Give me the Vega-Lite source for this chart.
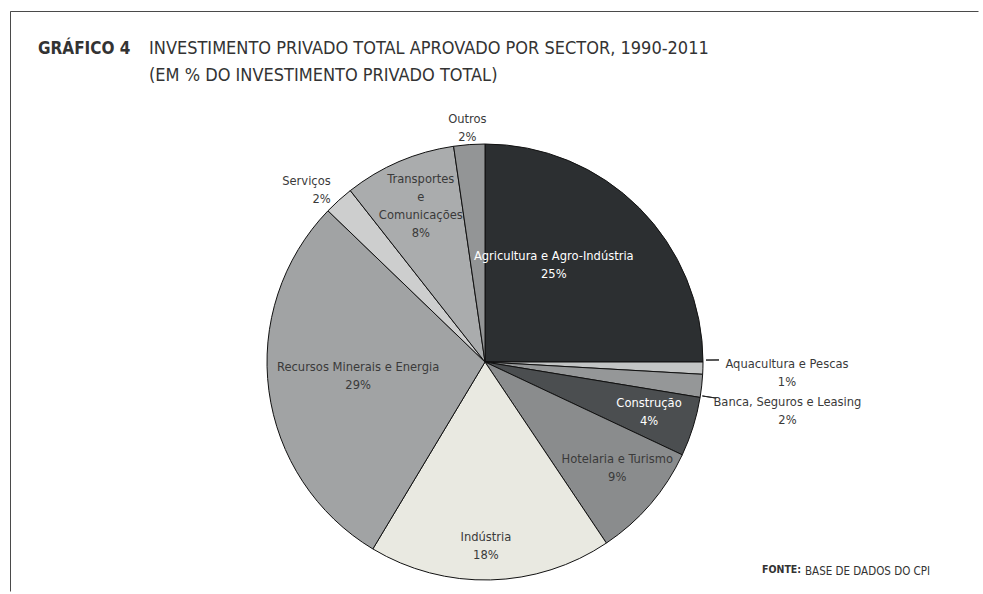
{
  "$schema": "https://vega.github.io/schema/vega-lite/v6.json",
  "padding": {"left": 9, "top": 10, "right": 0, "bottom": 0},
  "background": "white",
  "title": {
    "text": "GRÁFICO 4",
    "orient": "top", "anchor": "start", "frame": "group",
    "offset": -47, "dx": 28,
    "font": "DejaVu Sans Condensed, Liberation Sans Narrow, sans-serif",
    "fontSize": 17, "fontWeight": "bold", "color": "#333333"
  },
  "datasets": {
    "setores": [
      {"ordem": 1, "setor": "Agricultura e Agro-Indústria", "valor": 25.0, "rotulo": "Agricultura e Agro-Indústria\n25%"},
      {"ordem": 2, "setor": "Aquacultura e Pescas", "valor": 0.9, "rotulo": "Aquacultura e Pescas\n1%"},
      {"ordem": 3, "setor": "Banca, Seguros e Leasing", "valor": 1.7, "rotulo": "Banca, Seguros e Leasing\n2%"},
      {"ordem": 4, "setor": "Construção", "valor": 4.4, "rotulo": "Construção\n4%"},
      {"ordem": 5, "setor": "Hotelaria e Turismo", "valor": 8.6, "rotulo": "Hotelaria e Turismo\n9%"},
      {"ordem": 6, "setor": "Indústria", "valor": 18.0, "rotulo": "Indústria\n18%"},
      {"ordem": 7, "setor": "Recursos Minerais e Energia", "valor": 28.6, "rotulo": "Recursos Minerais e Energia\n29%"},
      {"ordem": 8, "setor": "Serviços", "valor": 2.2, "rotulo": "Serviços\n2%"},
      {"ordem": 9, "setor": "Transportes e Comunicações", "valor": 8.3, "rotulo": "Transportes\ne\nComunicações\n8%"},
      {"ordem": 10, "setor": "Outros", "valor": 2.3, "rotulo": "Outros\n2%"}
    ]
  },
  "vconcat": [
    {
      "title": {
        "text": ["INVESTIMENTO PRIVADO TOTAL APROVADO POR SECTOR, 1990-2011", "(EM % DO INVESTIMENTO PRIVADO TOTAL)"],
        "orient": "top", "anchor": "start", "frame": "group",
        "offset": -74, "dx": 139, "lineHeight": 27,
        "font": "DejaVu Sans Condensed, Liberation Sans Narrow, sans-serif",
        "fontSize": 18, "fontWeight": "normal", "color": "#333333"
      },
      "vconcat": [
        {
          "title": {
            "text": "BASE DE DADOS DO CPI",
            "orient": "bottom", "anchor": "start", "frame": "group",
            "offset": -26, "dx": 795,
            "font": "DejaVu Sans Condensed, Liberation Sans Narrow, sans-serif",
            "fontSize": 11.5, "fontWeight": "normal", "color": "#333333"
          },
          "vconcat": [
            {
              "width": 968,
              "height": 580,
              "view": {"stroke": "#4a4a4a", "strokeWidth": 1, "strokeDash": [968, 1548, 580]},
              "data": {"name": "setores"},
              "title": {
                "text": "FONTE:",
                "orient": "bottom", "anchor": "start", "frame": "group",
                "offset": -26, "dx": 752,
                "font": "DejaVu Sans Condensed, Liberation Sans Narrow, sans-serif",
                "fontSize": 10.5, "fontWeight": "bold", "color": "#333333"
              },
              "layer": [
                {
                  "mark": {"type": "arc", "outerRadius": 218, "x": 475, "y": 351, "stroke": "#111111", "strokeWidth": 1},
                  "encoding": {
                    "theta": {"field": "valor", "type": "quantitative", "stack": true},
                    "order": {"field": "ordem", "type": "quantitative"},
                    "color": {
                      "field": "setor", "type": "nominal", "legend": null,
                      "scale": {
                        "domain": ["Agricultura e Agro-Indústria", "Aquacultura e Pescas", "Banca, Seguros e Leasing", "Construção", "Hotelaria e Turismo", "Indústria", "Recursos Minerais e Energia", "Serviços", "Transportes e Comunicações", "Outros"],
                        "range": ["#2c2f31", "#c3c5c5", "#959798", "#4b4e50", "#8a8c8d", "#e9e9e1", "#a1a3a4", "#cdcece", "#aaacad", "#939596"]
                      }
                    }
                  }
                },
                {
                  "mark": {"type": "arc", "clip": true, "x": 475, "y": 351, "innerRadius": 221, "outerRadius": 234, "padAngle": 1, "thetaOffset": -0.037, "theta2Offset": -0.037, "fillOpacity": 0, "stroke": "#222222", "strokeWidth": 1},
                  "encoding": {
                    "theta": {"field": "valor", "type": "quantitative", "stack": true},
                    "order": {"field": "ordem", "type": "quantitative"},
                    "strokeOpacity": {"condition": {"test": "datum.setor == 'Aquacultura e Pescas'", "value": 1}, "value": 0}
                  }
                },
                {
                  "mark": {"type": "arc", "clip": true, "x": 475, "y": 351, "innerRadius": 220, "outerRadius": 234, "padAngle": 1, "thetaOffset": 0.045, "theta2Offset": 0.045, "fillOpacity": 0, "stroke": "#222222", "strokeWidth": 1},
                  "encoding": {
                    "theta": {"field": "valor", "type": "quantitative", "stack": true},
                    "order": {"field": "ordem", "type": "quantitative"},
                    "strokeOpacity": {"condition": {"test": "datum.setor == 'Banca, Seguros e Leasing'", "value": 1}, "value": 0}
                  }
                },
                {
                  "mark": {"type": "text", "clip": true, "x": 475, "y": 351, "radius": 126, "thetaOffset": -0.208, "font": "DejaVu Sans Condensed, Liberation Sans Narrow, sans-serif", "fontSize": 12.8, "lineHeight": 18, "align": "center", "baseline": "middle", "lineBreak": "\n", "fill": "#ffffff"},
                  "encoding": {
                    "theta": {"field": "valor", "type": "quantitative", "stack": true},
                    "order": {"field": "ordem", "type": "quantitative"},
                    "text": {"field": "rotulo", "type": "nominal", "condition": {"test": "datum.setor != 'Agricultura e Agro-Indústria'", "value": ""}}
                  }
                },
                {
                  "mark": {"type": "text", "clip": true, "x": 475, "y": 351, "radius": 302, "thetaOffset": -0.02, "font": "DejaVu Sans Condensed, Liberation Sans Narrow, sans-serif", "fontSize": 12.8, "lineHeight": 18, "align": "center", "baseline": "middle", "lineBreak": "\n", "fill": "#3a3a3a"},
                  "encoding": {
                    "theta": {"field": "valor", "type": "quantitative", "stack": true},
                    "order": {"field": "ordem", "type": "quantitative"},
                    "text": {"field": "rotulo", "type": "nominal", "condition": {"test": "datum.setor != 'Aquacultura e Pescas'", "value": ""}}
                  }
                },
                {
                  "mark": {"type": "text", "clip": true, "x": 475, "y": 351, "radius": 305, "thetaOffset": 0.02, "font": "DejaVu Sans Condensed, Liberation Sans Narrow, sans-serif", "fontSize": 12.8, "lineHeight": 18, "align": "center", "baseline": "middle", "lineBreak": "\n", "fill": "#3a3a3a"},
                  "encoding": {
                    "theta": {"field": "valor", "type": "quantitative", "stack": true},
                    "order": {"field": "ordem", "type": "quantitative"},
                    "text": {"field": "rotulo", "type": "nominal", "condition": {"test": "datum.setor != 'Banca, Seguros e Leasing'", "value": ""}}
                  }
                },
                {
                  "mark": {"type": "text", "clip": true, "x": 475, "y": 351, "radius": 169, "thetaOffset": -0.058, "font": "DejaVu Sans Condensed, Liberation Sans Narrow, sans-serif", "fontSize": 12.8, "lineHeight": 18, "align": "center", "baseline": "middle", "lineBreak": "\n", "fill": "#ffffff"},
                  "encoding": {
                    "theta": {"field": "valor", "type": "quantitative", "stack": true},
                    "order": {"field": "ordem", "type": "quantitative"},
                    "text": {"field": "rotulo", "type": "nominal", "condition": {"test": "datum.setor != 'Construção'", "value": ""}}
                  }
                },
                {
                  "mark": {"type": "text", "clip": true, "x": 475, "y": 351, "radius": 164, "thetaOffset": -0.077, "font": "DejaVu Sans Condensed, Liberation Sans Narrow, sans-serif", "fontSize": 12.8, "lineHeight": 18, "align": "center", "baseline": "middle", "lineBreak": "\n", "fill": "#3a3a3a"},
                  "encoding": {
                    "theta": {"field": "valor", "type": "quantitative", "stack": true},
                    "order": {"field": "ordem", "type": "quantitative"},
                    "text": {"field": "rotulo", "type": "nominal", "condition": {"test": "datum.setor != 'Hotelaria e Turismo'", "value": ""}}
                  }
                },
                {
                  "mark": {"type": "text", "clip": true, "x": 475, "y": 351, "radius": 175, "thetaOffset": 0.02, "font": "DejaVu Sans Condensed, Liberation Sans Narrow, sans-serif", "fontSize": 12.8, "lineHeight": 18, "align": "center", "baseline": "middle", "lineBreak": "\n", "fill": "#3a3a3a"},
                  "encoding": {
                    "theta": {"field": "valor", "type": "quantitative", "stack": true},
                    "order": {"field": "ordem", "type": "quantitative"},
                    "text": {"field": "rotulo", "type": "nominal", "condition": {"test": "datum.setor != 'Indústria'", "value": ""}}
                  }
                },
                {
                  "mark": {"type": "text", "clip": true, "x": 475, "y": 351, "radius": 127, "thetaOffset": 0.092, "font": "DejaVu Sans Condensed, Liberation Sans Narrow, sans-serif", "fontSize": 12.8, "lineHeight": 18, "align": "center", "baseline": "middle", "lineBreak": "\n", "fill": "#3a3a3a"},
                  "encoding": {
                    "theta": {"field": "valor", "type": "quantitative", "stack": true},
                    "order": {"field": "ordem", "type": "quantitative"},
                    "text": {"field": "rotulo", "type": "nominal", "condition": {"test": "datum.setor != 'Recursos Minerais e Energia'", "value": ""}}
                  }
                },
                {
                  "mark": {"type": "text", "clip": true, "x": 475, "y": 351, "radius": 238, "thetaOffset": 0.03, "font": "DejaVu Sans Condensed, Liberation Sans Narrow, sans-serif", "fontSize": 12.8, "lineHeight": 18, "align": "right", "baseline": "middle", "lineBreak": "\n", "fill": "#3a3a3a"},
                  "encoding": {
                    "theta": {"field": "valor", "type": "quantitative", "stack": true},
                    "order": {"field": "ordem", "type": "quantitative"},
                    "text": {"field": "rotulo", "type": "nominal", "condition": {"test": "datum.setor != 'Serviços'", "value": ""}}
                  }
                },
                {
                  "mark": {"type": "text", "clip": true, "x": 475, "y": 351, "radius": 194, "thetaOffset": 0.068, "font": "DejaVu Sans Condensed, Liberation Sans Narrow, sans-serif", "fontSize": 12.8, "lineHeight": 18, "align": "center", "baseline": "middle", "lineBreak": "\n", "fill": "#3a3a3a"},
                  "encoding": {
                    "theta": {"field": "valor", "type": "quantitative", "stack": true},
                    "order": {"field": "ordem", "type": "quantitative"},
                    "text": {"field": "rotulo", "type": "nominal", "condition": {"test": "datum.setor != 'Transportes e Comunicações'", "value": ""}}
                  }
                },
                {
                  "mark": {"type": "text", "clip": true, "x": 475, "y": 351, "radius": 244, "font": "DejaVu Sans Condensed, Liberation Sans Narrow, sans-serif", "fontSize": 12.8, "lineHeight": 18, "align": "center", "baseline": "middle", "lineBreak": "\n", "fill": "#3a3a3a"},
                  "encoding": {
                    "theta": {"field": "valor", "type": "quantitative", "stack": true},
                    "order": {"field": "ordem", "type": "quantitative"},
                    "text": {"field": "rotulo", "type": "nominal", "condition": {"test": "datum.setor != 'Outros'", "value": ""}}
                  }
                }
              ]
            }
          ]
        }
      ]
    }
  ],
  "config": {
    "concat": {"spacing": 0}
  }
}
